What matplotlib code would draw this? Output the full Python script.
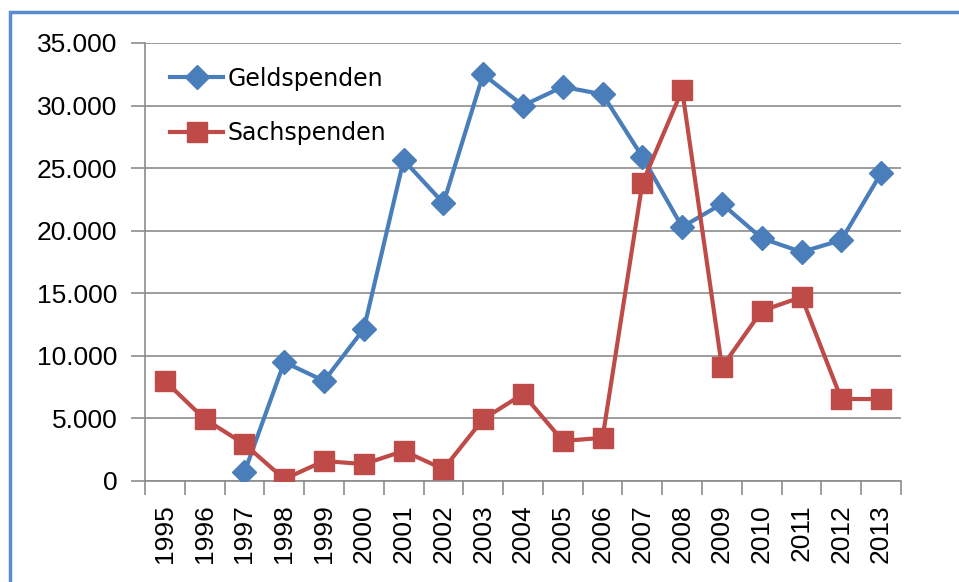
import matplotlib
matplotlib.use("Agg")
import matplotlib.pyplot as plt
from matplotlib.ticker import FuncFormatter, FixedLocator, MultipleLocator
from matplotlib.patches import Rectangle

years = ["1995", "1996", "1997", "1998", "1999", "2000", "2001", "2002", "2003", "2004",
         "2005", "2006", "2007", "2008", "2009", "2010", "2011", "2012", "2013"]
geldspenden = [None, None, 700, 9500, 8000, 12150, 25650, 22200, 32500, 30000,
               31500, 30900, 25900, 20300, 22150, 19400, 18300, 19250, 24600]
sachspenden = [8000, 4950, 2950, 150, 1600, 1350, 2400, 950, 4950, 6950,
               3200, 3450, 23800, 31250, 9100, 13600, 14700, 6550, 6550]

plt.rcParams['font.family'] = ['Liberation Sans', 'DejaVu Sans']

fig = plt.figure(figsize=(9.59, 5.82), dpi=100)
ax = fig.add_axes([145/959, 1-481/582, (901-145)/959, (481-43)/582])

x = list(range(len(years)))
gx = [i for i, v in zip(x, geldspenden) if v is not None]
gy = [v for v in geldspenden if v is not None]

blue = "#4A7EBB"
red = "#BE4B48"
ax.plot(gx, gy, color=blue, lw=3.0, marker="D", markersize=12, label="Geldspenden", zorder=3)
ax.plot(x, sachspenden, color=red, lw=3.0, marker="s", markersize=14, label="Sachspenden", zorder=3)

ax.set_xlim(-0.5, len(years) - 0.5)
ax.set_ylim(0, 35000)
ax.yaxis.set_major_locator(MultipleLocator(5000))
ax.yaxis.set_major_formatter(FuncFormatter(lambda v, p: f"{int(v):,}".replace(",", ".")))
ax.grid(axis="y", color="#8C8C8C", lw=1.2, zorder=0)
ax.set_axisbelow(True)

ax.xaxis.set_major_locator(FixedLocator(x))
ax.set_xticklabels(years, rotation=90)
ax.xaxis.set_minor_locator(FixedLocator([i - 0.5 for i in range(len(years) + 1)]))
ax.tick_params(axis="x", which="major", length=0, pad=17, labelsize=19)
ax.tick_params(axis="x", which="minor", length=10, color="#8C8C8C", width=1.2)
ax.tick_params(axis="y", length=10, color="#8C8C8C", width=1.2, labelsize=19, pad=10)

for s in ["top", "right"]:
    ax.spines[s].set_visible(False)
for s in ["left", "bottom"]:
    ax.spines[s].set_color("#8C8C8C")
    ax.spines[s].set_linewidth(1.2)

leg = ax.legend(loc="upper left", bbox_to_anchor=(0.033, 0.946), frameon=False,
                borderpad=0, borderaxespad=0,
                handlelength=2.25, handletextpad=0.2, labelspacing=1.3,
                prop={"family": "DejaVu Sans", "size": 17})

fig.patches.append(Rectangle((9.5/959, -0.2), 2.0, 1.2 - 11.5/582, transform=fig.transFigure,
                             fill=False, edgecolor="#5B8BD0", lw=2.5))

fig.savefig("out.png", dpi=100)
